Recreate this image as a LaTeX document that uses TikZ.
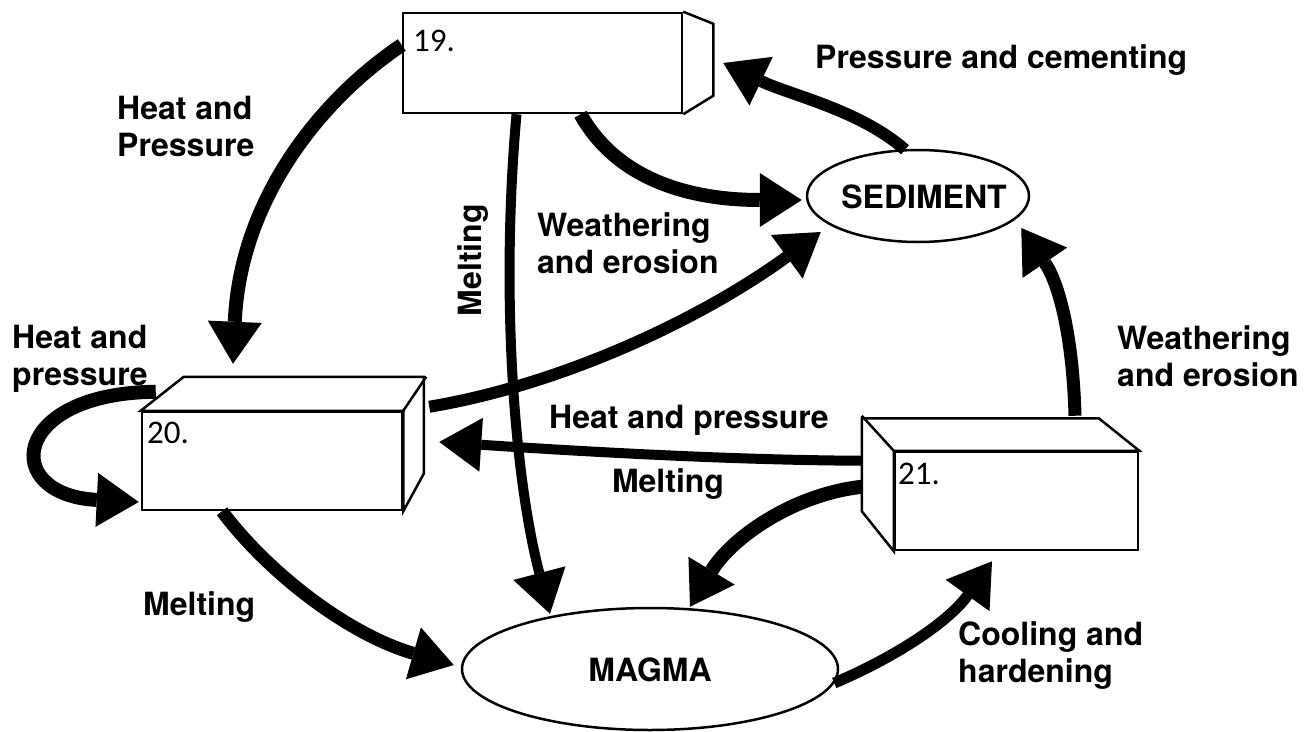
\documentclass[tikz,border=0pt]{standalone}
\usepackage{fontspec}
\usetikzlibrary{arrows.meta}
\usetikzlibrary{shapes.geometric}
\newfontfamily\lblfont{TeX Gyre Heros}
\newfontfamily\numfont{Carlito}

\begin{document}
\begin{tikzpicture}[x=1pt, y=-1pt]
	\tikzstyle{boxStyle}=[draw, fill=white, line width=2.5pt, line join=miter, inner sep=0pt]
	\tikzstyle{ovalStyle}=[shape=ellipse, draw, fill=white, line width=2.5pt, inner sep=0pt]
	\tikzstyle{labelStyle}=[font=\lblfont\bfseries\fontsize{32}{37}\selectfont, inner sep=0pt, align=left]
	\tikzstyle{numStyle}=[font=\numfont\fontsize{33}{38}\selectfont, inner sep=0pt, anchor=west]
	\tikzstyle{flowStyle}=[line width=13pt, -{Triangle[width=54pt, length=42pt, line width=0pt]}]
	\useasboundingbox (0,0) rectangle (1312,731);
	\node[boxStyle, minimum width=279pt, minimum height=100pt] (r19) at (542.5,63) {};
	\draw[boxStyle] (r19.north east) -- ++(30,12) -- ++(0,72) -- (r19.south east);
	\node[boxStyle, minimum width=260pt, minimum height=98pt] (r20) at (272,461) {};
	\draw[boxStyle] (r20.north west) -- ++(43,-34) -- ++(240,0) -- ++(0,97) -- (r20.south east) -- (r20.north east) -- cycle;
	\draw[boxStyle] (r20.north east) -- ++(23,-34);
	\node[boxStyle, minimum width=243pt, minimum height=98pt] (r21) at (1016.5,501) {};
	\draw[boxStyle] (r21.south west) -- ++(-32,-40) -- ++(0,-93) -- ++(237,0) -- (r21.north east) -- (r21.north west) -- cycle;
	\draw[boxStyle] (r21.north west) -- ++(-32,-35);
	\node[numStyle] (n19) at (413,41) {19.};
	\node[numStyle] (n20) at (147,433) {20.};
	\node[numStyle] (n21) at (898,474) {21.};
	\node[ovalStyle, minimum width=222pt, minimum height=92pt] (sed) at (918,196) {};
	\node[labelStyle] (sedtxt) at (924,197) {SEDIMENT};
	\node[ovalStyle, minimum width=376pt, minimum height=122pt] (magma) at (650,669) {};
	\node[labelStyle] (magtxt) at (650,670) {MAGMA};
	\draw[flowStyle, line width=14pt] ([yshift=18pt]r19.west) .. controls (320,100) and (240,200) .. ([xshift=-39pt,yshift=47pt]r20.north);
	\draw[flowStyle, line width=14pt] ([xshift=15pt,yshift=19pt]r20.north west) .. controls (10,393) and (0,495) .. ([xshift=-2pt,yshift=-41pt]r20.west);
	\draw[flowStyle, line width=14pt] ([xshift=38pt]r19.south) .. controls (620,185) and (700,200) .. ([xshift=-4pt,yshift=-4pt]sed.west);
	\draw[flowStyle, line width=12pt] ([xshift=-13pt,yshift=-1pt]sed.north) .. controls (860,110) and (790,95) .. ([xshift=40pt]r19.east);
	\draw[flowStyle, line width=10pt] ([xshift=-26pt]r19.south) .. controls (500,300) and (515,480) .. ([xshift=-100pt,yshift=-7pt]magma.north);
	\draw[flowStyle, line width=12pt] ([xshift=26pt,yshift=4pt]r20.north east) .. controls (560,385) and (700,320) .. ([xshift=15pt,yshift=-36pt]sed.west);
	\draw[flowStyle, line width=10pt] ([xshift=-32pt,yshift=-10pt]r21.north west) .. controls (720,460) and (560,450) .. ([xshift=36pt,yshift=19pt]r20.east);
	\draw[flowStyle, line width=14pt] ([xshift=-32pt,yshift=-36pt]r21.north west) .. controls (790,495) and (730,540) .. ([xshift=40pt]magma.north);
	\draw[flowStyle, line width=13pt] ([xshift=58.5pt,yshift=35pt]r21.north) .. controls (1073,340) and (1060,285) .. ([xshift=-9pt,yshift=-32pt]sed.east);
	\draw[flowStyle, line width=11pt] ([xshift=-5pt,yshift=-14pt]magma.east) .. controls (900,655) and (950,620) .. ([xshift=-24.5pt,yshift=-10pt]r21.south);
	\draw[flowStyle, line width=13pt] ([xshift=-50pt]r20.south) .. controls (270,575) and (350,635) .. ([xshift=-7pt,yshift=4pt]magma.west);
	\node[labelStyle, anchor=west] (pc) at (815,60) {Pressure and cementing};
	\node[labelStyle, anchor=west] (hp1) at (117,126) {Heat and\\Pressure};
	\node[labelStyle, rotate=90] (melt1) at (473,260) {Melting};
	\node[labelStyle, anchor=west] (we1) at (537,243) {Weathering\\and erosion};
	\node[labelStyle, anchor=west] (hp2) at (12,359) {Heat and\\pressure};
	\node[labelStyle, anchor=west] (we2) at (1117,356) {Weathering\\and erosion};
	\node[labelStyle] (hp3) at (689,420) {Heat and pressure};
	\node[labelStyle] (melt2) at (668,484) {Melting};
	\node[labelStyle, anchor=west] (melt3) at (143,607) {Melting};
	\node[labelStyle, anchor=west] (ch) at (958,656) {Cooling and\\hardening};
	\end{tikzpicture}
\end{document}
